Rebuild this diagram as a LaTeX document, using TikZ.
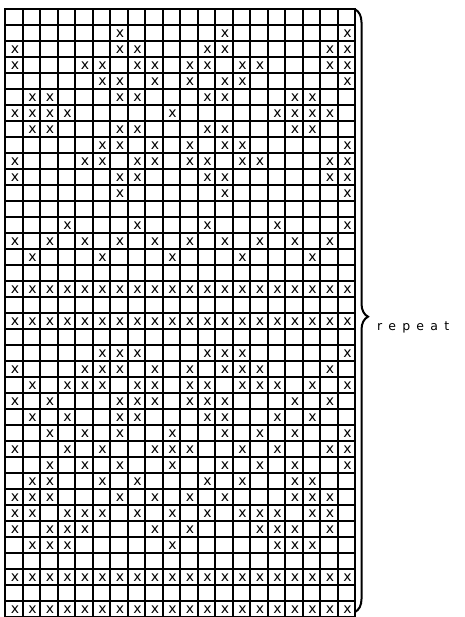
\documentclass[tikz,border=0pt]{standalone}
\usepackage{fontspec}
\setmainfont{DejaVu Sans}
\newfontfamily\repfont[LetterSpace=50]{DejaVu Sans}
\usetikzlibrary{decorations.pathreplacing}
\definecolor{cInk}{HTML}{000000}

\begin{document}
\begin{tikzpicture}[
  x=1pt,y=-1pt,
  gridln/.style={line width=2pt,line cap=rect,color=cInk},
  stitch/.style={font=\fontsize{14}{14}\selectfont,inner sep=0pt,color=cInk},
  brc/.style={decorate,decoration={brace,amplitude=13pt,aspect=0.51},line width=2pt,color=cInk},
  lbl/.style={font=\repfont\fontsize{12.5}{12.5}\selectfont,color=cInk,inner sep=0pt},
]
\newcommand{\cellat}[2]{({5+17.5*(#1-0.5)+1.2},{9.3+16.0*(#2-0.5)+0.8})}
\useasboundingbox (0,0) rectangle (464,617);
\clip (0,0) rectangle (464,617);

% ============================================================ chart grid
% 20 stitches wide, rows run off the bottom edge
\foreach \i in {0,...,20}
  \draw[gridln] ({5+17.5*\i},9.3) -- ({5+17.5*\i},625);
\foreach \j in {0,...,38}
  \draw[gridln] (5,{9.3+16.0*\j}) -- (355,{9.3+16.0*\j});

% ============================================================ stitches
% row / columns that carry an x
\foreach \r/\cl in {
    2/{7,13,20},
    3/{1,7,8,12,13,19,20},
    4/{1,5,6,8,9,11,12,14,15,19,20},
    5/{6,7,9,11,13,14,20},
    6/{2,3,7,8,12,13,17,18},
    7/{1,2,3,4,10,16,17,18,19},
    8/{2,3,7,8,12,13,17,18},
    9/{6,7,9,11,13,14,20},
    10/{1,5,6,8,9,11,12,14,15,19,20},
    11/{1,7,8,12,13,19,20},
    12/{7,13,20},
    14/{4,8,12,16,20},
    15/{1,3,5,7,9,11,13,15,17,19},
    16/{2,6,10,14,18},
    18/{1,...,20},
    20/{1,...,20},
    22/{6,7,8,12,13,14,20},
    23/{1,5,6,7,9,11,13,14,15,19},
    24/{2,4,5,6,8,9,11,12,14,15,16,18,20},
    25/{1,3,7,8,9,11,12,13,17,19},
    26/{2,4,7,8,12,13,16,18},
    27/{3,5,7,10,13,15,17,20},
    28/{1,4,6,9,10,11,14,16,19,20},
    29/{3,5,7,10,13,15,17,20},
    30/{2,3,6,8,12,14,17,18},
    31/{1,2,3,7,9,11,13,17,18,19},
    32/{1,2,4,5,6,8,10,12,14,15,16,18,19},
    33/{1,3,4,5,9,11,15,16,17,19},
    34/{2,3,4,10,16,17,18},
    36/{1,...,20},
    38/{1,...,20}}
  \foreach \c in \cl
    \path \cellat{\c}{\r} node[stitch] (x-\r-\c) {x};

% ============================================================ repeat brace
\coordinate (brtop) at (355,9.3);
\coordinate (brbot) at (355,612);
\draw[brc] (brtop) -- (brbot);
\node[lbl,anchor=west] (rep) at (377,327) {repeat};

\end{tikzpicture}
\end{document}
